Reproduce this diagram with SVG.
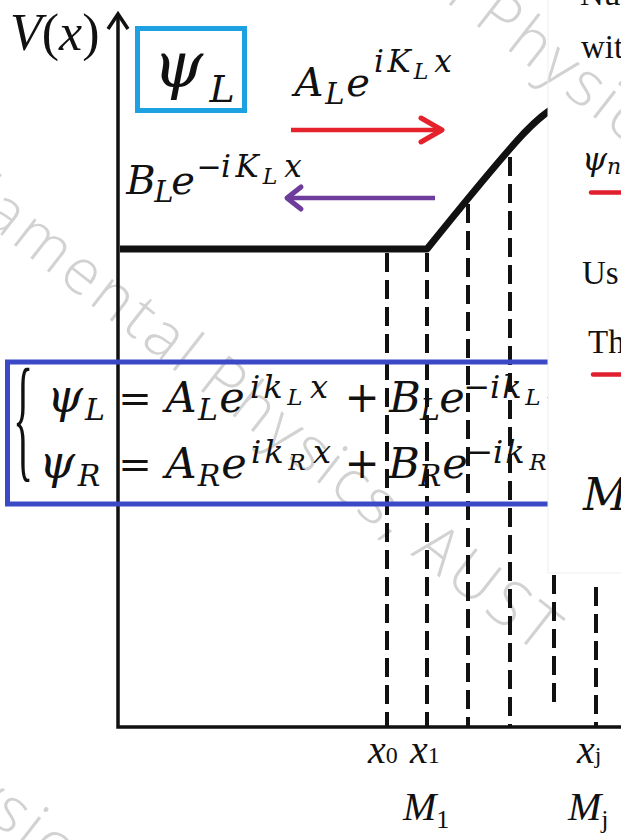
<svg xmlns="http://www.w3.org/2000/svg" width="621" height="840" viewBox="0 0 621 840">
<style>
.m{font-family:'DejaVu Serif','Liberation Serif',serif;font-style:italic;fill:#111;text-anchor:middle}
.o{font-family:'DejaVu Serif','Liberation Serif',serif;font-style:normal;fill:#111;text-anchor:middle}
.t{font-family:'Liberation Serif','Times New Roman',serif;font-style:italic;fill:#111}
.u{font-family:'Liberation Serif','Times New Roman',serif;font-style:normal;fill:#111}
.wm{font-family:'Open Sans','Liberation Sans',sans-serif;font-weight:300;font-size:63px;letter-spacing:4px;fill:#d2d2d2}
.dash{stroke:#111;stroke-width:4;stroke-dasharray:19 8;fill:none}
.ax{stroke:#111;stroke-width:3.5;fill:none}
</style>
<defs>
<clipPath id="cut"><path d="M0,0 H548 V573 H621 V840 H0 Z"/></clipPath>
</defs>
<rect x="0" y="0" width="621" height="840" fill="#fff"/>
<g id="watermark">
<text class="wm" text-anchor="end" transform="translate(183,377) rotate(38)">Fundamental</text>
<text class="wm" transform="translate(196,387) rotate(38)">Physics, AUST</text>
<text class="wm" text-anchor="end" transform="translate(459,12) rotate(38)">Fundamental</text>
<text class="wm" transform="translate(472,22) rotate(38)">Physics, AUST</text>
<text class="wm" text-anchor="end" transform="translate(-116,738) rotate(38)">Fundamental</text>
<text class="wm" transform="translate(-103,748) rotate(38)">Physics, AUST</text>
</g>
<g id="axes">
<path class="ax" d="M118,16 V727 H621"/>
<path class="ax" d="M108,29 L118,14 L128,29"/>
<text class="u" x="10" y="50" font-size="52"><tspan class="t">V</tspan>(<tspan class="t">x</tspan>)</text>
</g>
<g id="connectors" clip-path="url(#cut)">
<path id="potential" d="M120,249 H427 C460,208 500,160 515,143 C530,126 545,112 560,104" stroke="#111" stroke-width="7" fill="none" stroke-linejoin="round"/>
<path class="dash" d="M387,253 V727"/>
<path class="dash" d="M427,253 V727"/>
<path class="dash" d="M468,204 V727"/>
<path class="dash" d="M510,157 V727"/>
<path class="dash" d="M554,575 V706"/>
<path class="dash" d="M596,587 V727"/>
<g id="arrow-right">
<path d="M291,130 H440" stroke="#e5222b" stroke-width="4.5" fill="none"/>
<path d="M421,118 L442,130 L421,142" stroke="#e5222b" stroke-width="5" fill="none" stroke-linecap="round" stroke-linejoin="round"/>
</g>
<g id="arrow-left">
<path d="M289,198 H435" stroke="#6e3c9c" stroke-width="4.5" fill="none"/>
<path d="M301,187 L287,198 L301,209" stroke="#6e3c9c" stroke-width="5" fill="none" stroke-linecap="round" stroke-linejoin="round"/>
</g>
</g>
<g id="psiL-box">
<rect x="137.5" y="28.5" width="107" height="82" fill="none" stroke="#1da1e2" stroke-width="5"/>
<text class="m" x="178" y="87" font-size="64">ψ</text>
<text class="m" x="222" y="102" font-size="38">L</text>
</g>
<g id="label-A">
<text class="m" x="309" y="96" font-size="40">A</text>
<text class="m" x="335" y="104" font-size="29">L</text>
<text class="m" x="358" y="96" font-size="40">e</text>
<text class="m" x="379" y="72" font-size="31">i</text>
<text class="m" x="399" y="72" font-size="31">K</text>
<text class="m" x="421" y="79" font-size="22">L</text>
<text class="m" x="443" y="72" font-size="31">x</text>
</g>
<g id="label-B">
<text class="m" x="141" y="194" font-size="40">B</text>
<text class="m" x="164" y="202" font-size="29">L</text>
<text class="m" x="183" y="194" font-size="40">e</text>
<text class="o" x="209" y="177" font-size="30">−</text>
<text class="m" x="226" y="177" font-size="31">i</text>
<text class="m" x="247" y="177" font-size="31">K</text>
<text class="m" x="270" y="184" font-size="22">L</text>
<text class="m" x="293" y="177" font-size="31">x</text>
</g>
<g id="equations" clip-path="url(#cut)">
<rect x="7.5" y="362" width="600" height="142" fill="none" stroke="#3b49c6" stroke-width="5"/>
<text class="u" font-size="42" transform="scale(1,3.3)" x="13" y="140.6">{</text>
<text class="m" x="65" y="412" font-size="46">ψ</text>
<text class="m" x="95" y="420" font-size="30">L</text>
<text class="o" x="135" y="412" font-size="40">=</text>
<text class="m" x="181" y="412" font-size="43">A</text>
<text class="m" x="208" y="420" font-size="30">L</text>
<text class="m" x="232" y="412" font-size="43">e</text>
<text class="m" x="255" y="398" font-size="32">i</text>
<text class="m" x="273" y="398" font-size="32">k</text>
<text class="m" x="295" y="405" font-size="23">L</text>
<text class="m" x="319" y="398" font-size="32">x</text>
<text class="o" x="362" y="412" font-size="42">+</text>
<text class="m" x="405" y="412" font-size="43">B</text>
<text class="m" x="430" y="420" font-size="30">L</text>
<text class="m" x="452" y="412" font-size="43">e</text>
<text class="o" x="477" y="398" font-size="32">−</text>
<text class="m" x="495" y="398" font-size="32">i</text>
<text class="m" x="512" y="398" font-size="32">k</text>
<text class="m" x="533" y="405" font-size="23">L</text>
<text class="m" x="556" y="398" font-size="32">x</text>
<text class="m" x="57" y="478" font-size="46">ψ</text>
<text class="m" x="89" y="486" font-size="30">R</text>
<text class="o" x="135" y="478" font-size="40">=</text>
<text class="m" x="181" y="478" font-size="43">A</text>
<text class="m" x="209" y="486" font-size="30">R</text>
<text class="m" x="234" y="478" font-size="43">e</text>
<text class="m" x="256" y="463" font-size="32">i</text>
<text class="m" x="274" y="463" font-size="32">k</text>
<text class="m" x="297" y="470" font-size="23">R</text>
<text class="m" x="322" y="463" font-size="32">x</text>
<text class="o" x="362" y="478" font-size="42">+</text>
<text class="m" x="404" y="478" font-size="43">B</text>
<text class="m" x="430" y="486" font-size="30">R</text>
<text class="m" x="455" y="478" font-size="43">e</text>
<text class="o" x="480" y="463" font-size="32">−</text>
<text class="m" x="498" y="463" font-size="32">i</text>
<text class="m" x="515" y="463" font-size="32">k</text>
<text class="m" x="538" y="470" font-size="23">R</text>
</g>
<g id="axis-labels">
<text class="u" x="368" y="763" font-size="40"><tspan class="t">x</tspan><tspan font-size="24">0</tspan></text>
<text class="u" x="410" y="763" font-size="40"><tspan class="t">x</tspan><tspan font-size="24">1</tspan></text>
<text class="u" x="577" y="763" font-size="40"><tspan class="t">x</tspan><tspan font-size="24">j</tspan></text>
<text class="u" x="403" y="820" font-size="40"><tspan class="t">M</tspan><tspan font-size="26" dy="8">1</tspan></text>
<text class="u" x="568" y="820" font-size="40"><tspan class="t">M</tspan><tspan font-size="26" dy="8">j</tspan></text>
</g>
<g id="side-text">
<path d="M548,0 V573 H621" stroke="#eeeeee" stroke-width="1" fill="none"/>
<text class="u" x="580" y="5" font-size="33">Nu</text>
<text class="u" x="581" y="58" font-size="33">wit</text>
<text class="m" x="582" y="170" font-size="32" style="text-anchor:start">ψ<tspan font-size="22" dy="4">n</tspan></text>
<path d="M591,192.5 H621" stroke="#e0202e" stroke-width="4.5" stroke-linecap="round"/>
<text class="u" x="582" y="284" font-size="33">Us</text>
<text class="u" x="588" y="353" font-size="33">Th</text>
<path d="M593,374.5 H621" stroke="#e0202e" stroke-width="4.5" stroke-linecap="round"/>
<text class="m" x="583" y="510" font-size="44" style="text-anchor:start">M<tspan font-size="28" dy="12">j</tspan></text>
</g>
</svg>
